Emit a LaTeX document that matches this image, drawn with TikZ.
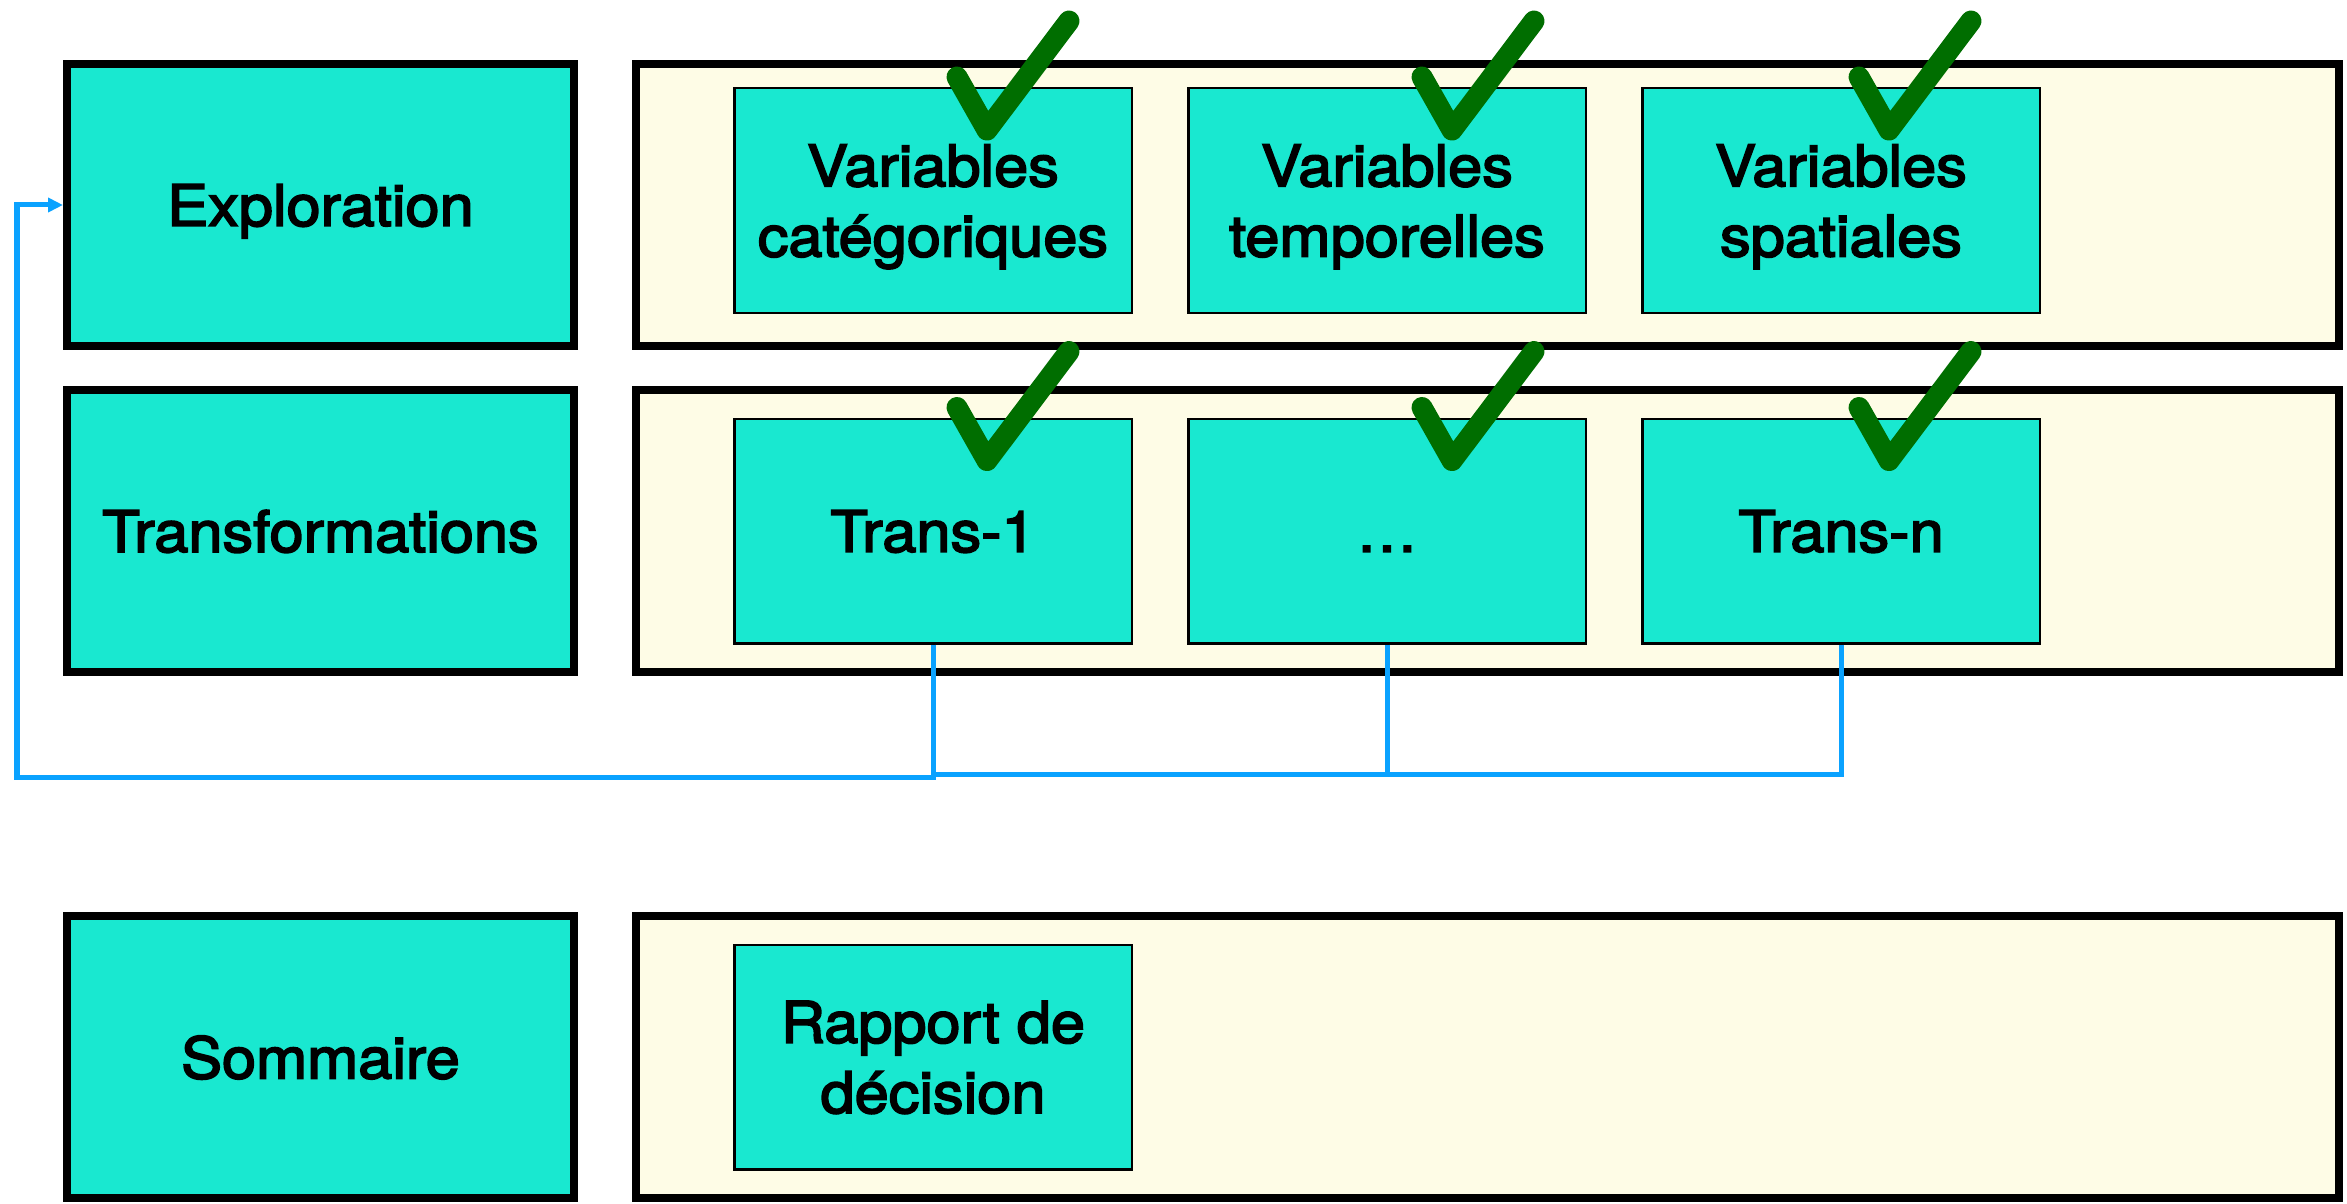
\documentclass[tikz,border=0pt]{standalone}
\usepackage{fontspec}
\setmainfont{TeX Gyre Heros}[FakeStretch=1.07, FakeBold=3]
\usetikzlibrary{arrows.meta,positioning}
\definecolor{stepteal}{RGB}{25,232,208}
\definecolor{panelcream}{RGB}{254,252,230}
\definecolor{loopblue}{RGB}{10,162,255}
\definecolor{tickgreen}{RGB}{0,110,0}
\tikzset{
	font=\fontsize{16.3}{20}\selectfont,
	phase/.style = {rectangle, draw, line width=0.08cm, fill=stepteal, minimum width=5.07cm, minimum height=2.82cm, inner sep=0pt, text depth=0pt},
	panel/.style = {rectangle, draw, line width=0.08cm, fill=panelcream, minimum width=17.03cm, minimum height=2.82cm, inner sep=0pt},
	task/.style = {rectangle, draw, line width=0.025cm, fill=stepteal, minimum width=3.975cm, minimum height=2.245cm, align=center, inner sep=0pt, text depth=0pt},
	feedback/.style = {draw=loopblue, line width=0.05cm},
	done/.pic = {\draw[tickgreen, line width=0.21cm, line cap=round, line join=round] (0,0) -- (0.30,-0.53) -- (1.12,0.56);}
}

\begin{document}
\begin{tikzpicture}
    \useasboundingbox (0,0) rectangle (23.47,-12.04);

    % steps on the left
    \node[phase] (expl) at (3.205,-2.05) {Exploration};
    \node[phase] (trans) [below = 0.36cm of expl] {Transformations};
    \node[phase] (somm) [below = 2.36cm of trans] {Sommaire};

    % a panel beside each step
    \node[panel] (pexpl) [right = 0.54cm of expl] {};
    \node[panel] (ptrans) [right = 0.54cm of trans] {};
    \node[panel] (psomm) [right = 0.54cm of somm] {};

    \node[task] (cat) at (9.33,-2.005) {Variables\\catégoriques};
    \node[task] (tmp) [right = 0.54cm of cat] {Variables\\temporelles};
    \node[task] (spa) [right = 0.54cm of tmp] {Variables\\spatiales};

    \node[task] (t1) at (9.33,-5.31) {Trans-1};
    \node[task] (dots) [right = 0.54cm of t1] {\vphantom{T}…};
    \node[task] (tn) [right = 0.54cm of dots] {Trans-n};

    \node[task] (rapport) at (9.33,-10.57) {Rapport de\\décision};

    % loop back to the exploration
    \coordinate (back) at (0.17,-7.77);
    \coordinate (bus) at (0,-7.74);
    \draw[feedback, -{Triangle[length=0.15cm, width=0.14cm]}] (t1.south) |- (back) |- (expl.west);
    \draw[feedback] (tn.south) |- (t1.south |- bus);
    \draw[feedback] (dots.south) -- (dots.south |- bus);

    % ticks over the finished tasks
    \foreach \b/\dx in {cat/0.24, tmp/0.35, spa/0.18, t1/0.24, dots/0.35, tn/0.18}
        \pic at ([xshift=\dx cm, yshift=0.10cm]\b.north) {done};

\end{tikzpicture}
\end{document}
